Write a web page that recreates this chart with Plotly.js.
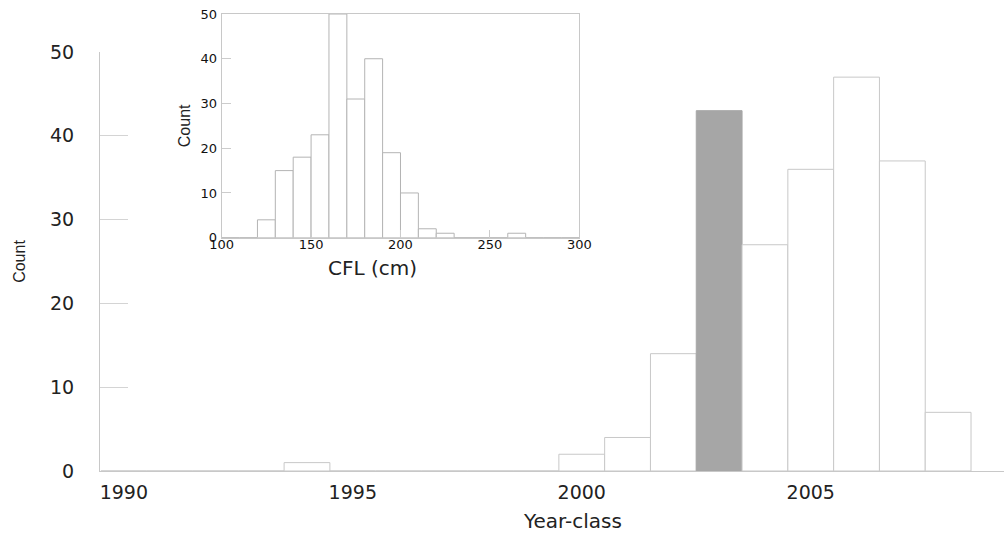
<!DOCTYPE html>
<html>
<head>
<meta charset="utf-8">
<script src="https://cdn.plot.ly/plotly-3.0.1.min.js"></script>
<style>
  html, body { margin: 0; padding: 0; background: #ffffff; }
  #chart { width: 1004px; height: 534px; }
</style>
</head>
<body>
<div id="chart"></div>
<script>
// Main histogram: count by year-class
const years = [1990, 1991, 1992, 1993, 1994, 1995, 1996, 1997, 1998, 1999,
               2000, 2001, 2002, 2003, 2004, 2005, 2006, 2007, 2008];
const yearCounts = [0, 0, 0, 0, 1, 0, 0, 0, 0, 0,
                    2, 4, 14, 43, 27, 36, 47, 37, 7];
const highlightYear = 2003;
const yearTickVals = [1990, 1995, 2000, 2005];
const countTickVals = [0, 10, 20, 30, 40, 50];

// Inset histogram: count by CFL (cm), 10 cm bins (bin centres)
const cflBins = [105, 115, 125, 135, 145, 155, 165, 175, 185, 195,
                 205, 215, 225, 235, 245, 255, 265, 275, 285, 295];
const cflCounts = [0, 0, 4, 15, 18, 23, 50, 31, 40, 19,
                   10, 2, 1, 0, 0, 0, 1, 0, 0, 0];
const cflTickVals = [100, 150, 200, 250, 300];

const outline = '#c8c8c8';
const fillColors = years.map(y => y === highlightYear ? '#a6a6a6' : '#ffffff');
const lineColors = years.map(y => y === highlightYear ? '#a6a6a6' : outline);

const tickFontMain = { family: 'DejaVu Sans, Liberation Sans, sans-serif', size: 19, color: '#222222' };
const tickFontInset = { family: 'DejaVu Sans, Liberation Sans, sans-serif', size: 13, color: '#111111' };

const traces = [
  {
    type: 'bar',
    x: years,
    y: yearCounts,
    width: 1,
    marker: { color: fillColors, line: { color: lineColors, width: 1 } },
    xaxis: 'x', yaxis: 'y',
    hoverinfo: 'skip'
  },
  {
    type: 'bar',
    x: cflBins,
    y: cflCounts,
    width: 10,
    marker: { color: '#ffffff', line: { color: '#b4b4b4', width: 1 } },
    xaxis: 'x2', yaxis: 'y2',
    hoverinfo: 'skip'
  }
];

const layout = {
  width: 1004,
  height: 534,
  margin: { l: 100, r: 0, t: 0, b: 63, pad: 0 },
  paper_bgcolor: '#ffffff',
  plot_bgcolor: '#ffffff',
  showlegend: false,
  bargap: 0,
  xaxis: {
    domain: [0, 1],
    range: [1989.48, 2009.22],
    tickvals: yearTickVals,
    ticks: '',
    showgrid: false,
    zeroline: false,
    showline: true,
    linecolor: outline,
    linewidth: 1,
    tickfont: tickFontMain,
    ticklabelstandoff: 4,
    automargin: false
  },
  yaxis: {
    domain: [0, 0.8896],
    range: [0, 50],
    tickvals: countTickVals,
    ticks: 'inside',
    ticklen: 28,
    tickcolor: '#d4d4d4',
    tickwidth: 1,
    showgrid: false,
    zeroline: false,
    showline: true,
    linecolor: outline,
    linewidth: 1,
    tickfont: tickFontMain,
    ticklabelstandoff: 21,
    automargin: false,
    title: { text: 'Count', font: { family: 'Liberation Sans, Arial, sans-serif', size: 16, color: '#222222' }, standoff: 20 }
  },
  xaxis2: {
    domain: [0.1346, 0.5302],
    anchor: 'y2',
    range: [100, 300],
    tickvals: cflTickVals,
    ticks: 'inside',
    ticklen: 8,
    tickcolor: '#cccccc',
    showgrid: false,
    zeroline: false,
    showline: true,
    mirror: true,
    linecolor: outline,
    linewidth: 1,
    tickfont: tickFontInset,
    ticklabelstandoff: -5,
    automargin: false
  },
  yaxis2: {
    domain: [0.4953, 0.9703],
    anchor: 'x2',
    range: [0, 50],
    tickvals: countTickVals,
    ticks: 'inside',
    ticklen: 9,
    tickcolor: '#cccccc',
    showgrid: false,
    zeroline: false,
    showline: true,
    mirror: true,
    linecolor: outline,
    linewidth: 1,
    tickfont: tickFontInset,
    ticklabelstandoff: 1,
    automargin: false,
    title: { text: 'Count', font: { family: 'Liberation Sans, Arial, sans-serif', size: 16, color: '#222222' }, standoff: 5 }
  },
  annotations: [
    {
      text: 'Year-class', xref: 'paper', yref: 'paper',
      x: 0.5227, y: -0.106, xanchor: 'center', yanchor: 'middle',
      showarrow: false,
      font: { family: 'DejaVu Sans, Liberation Sans, sans-serif', size: 20, color: '#222222' }
    },
    {
      text: 'CFL (cm)', xref: 'paper', yref: 'paper',
      x: 0.3009, y: 0.431, xanchor: 'center', yanchor: 'middle',
      showarrow: false,
      font: { family: 'DejaVu Sans, Liberation Sans, sans-serif', size: 20, color: '#222222' }
    }
  ]
};

Plotly.newPlot('chart', traces, layout, { staticPlot: true, displayModeBar: false });
</script>
</body>
</html>
